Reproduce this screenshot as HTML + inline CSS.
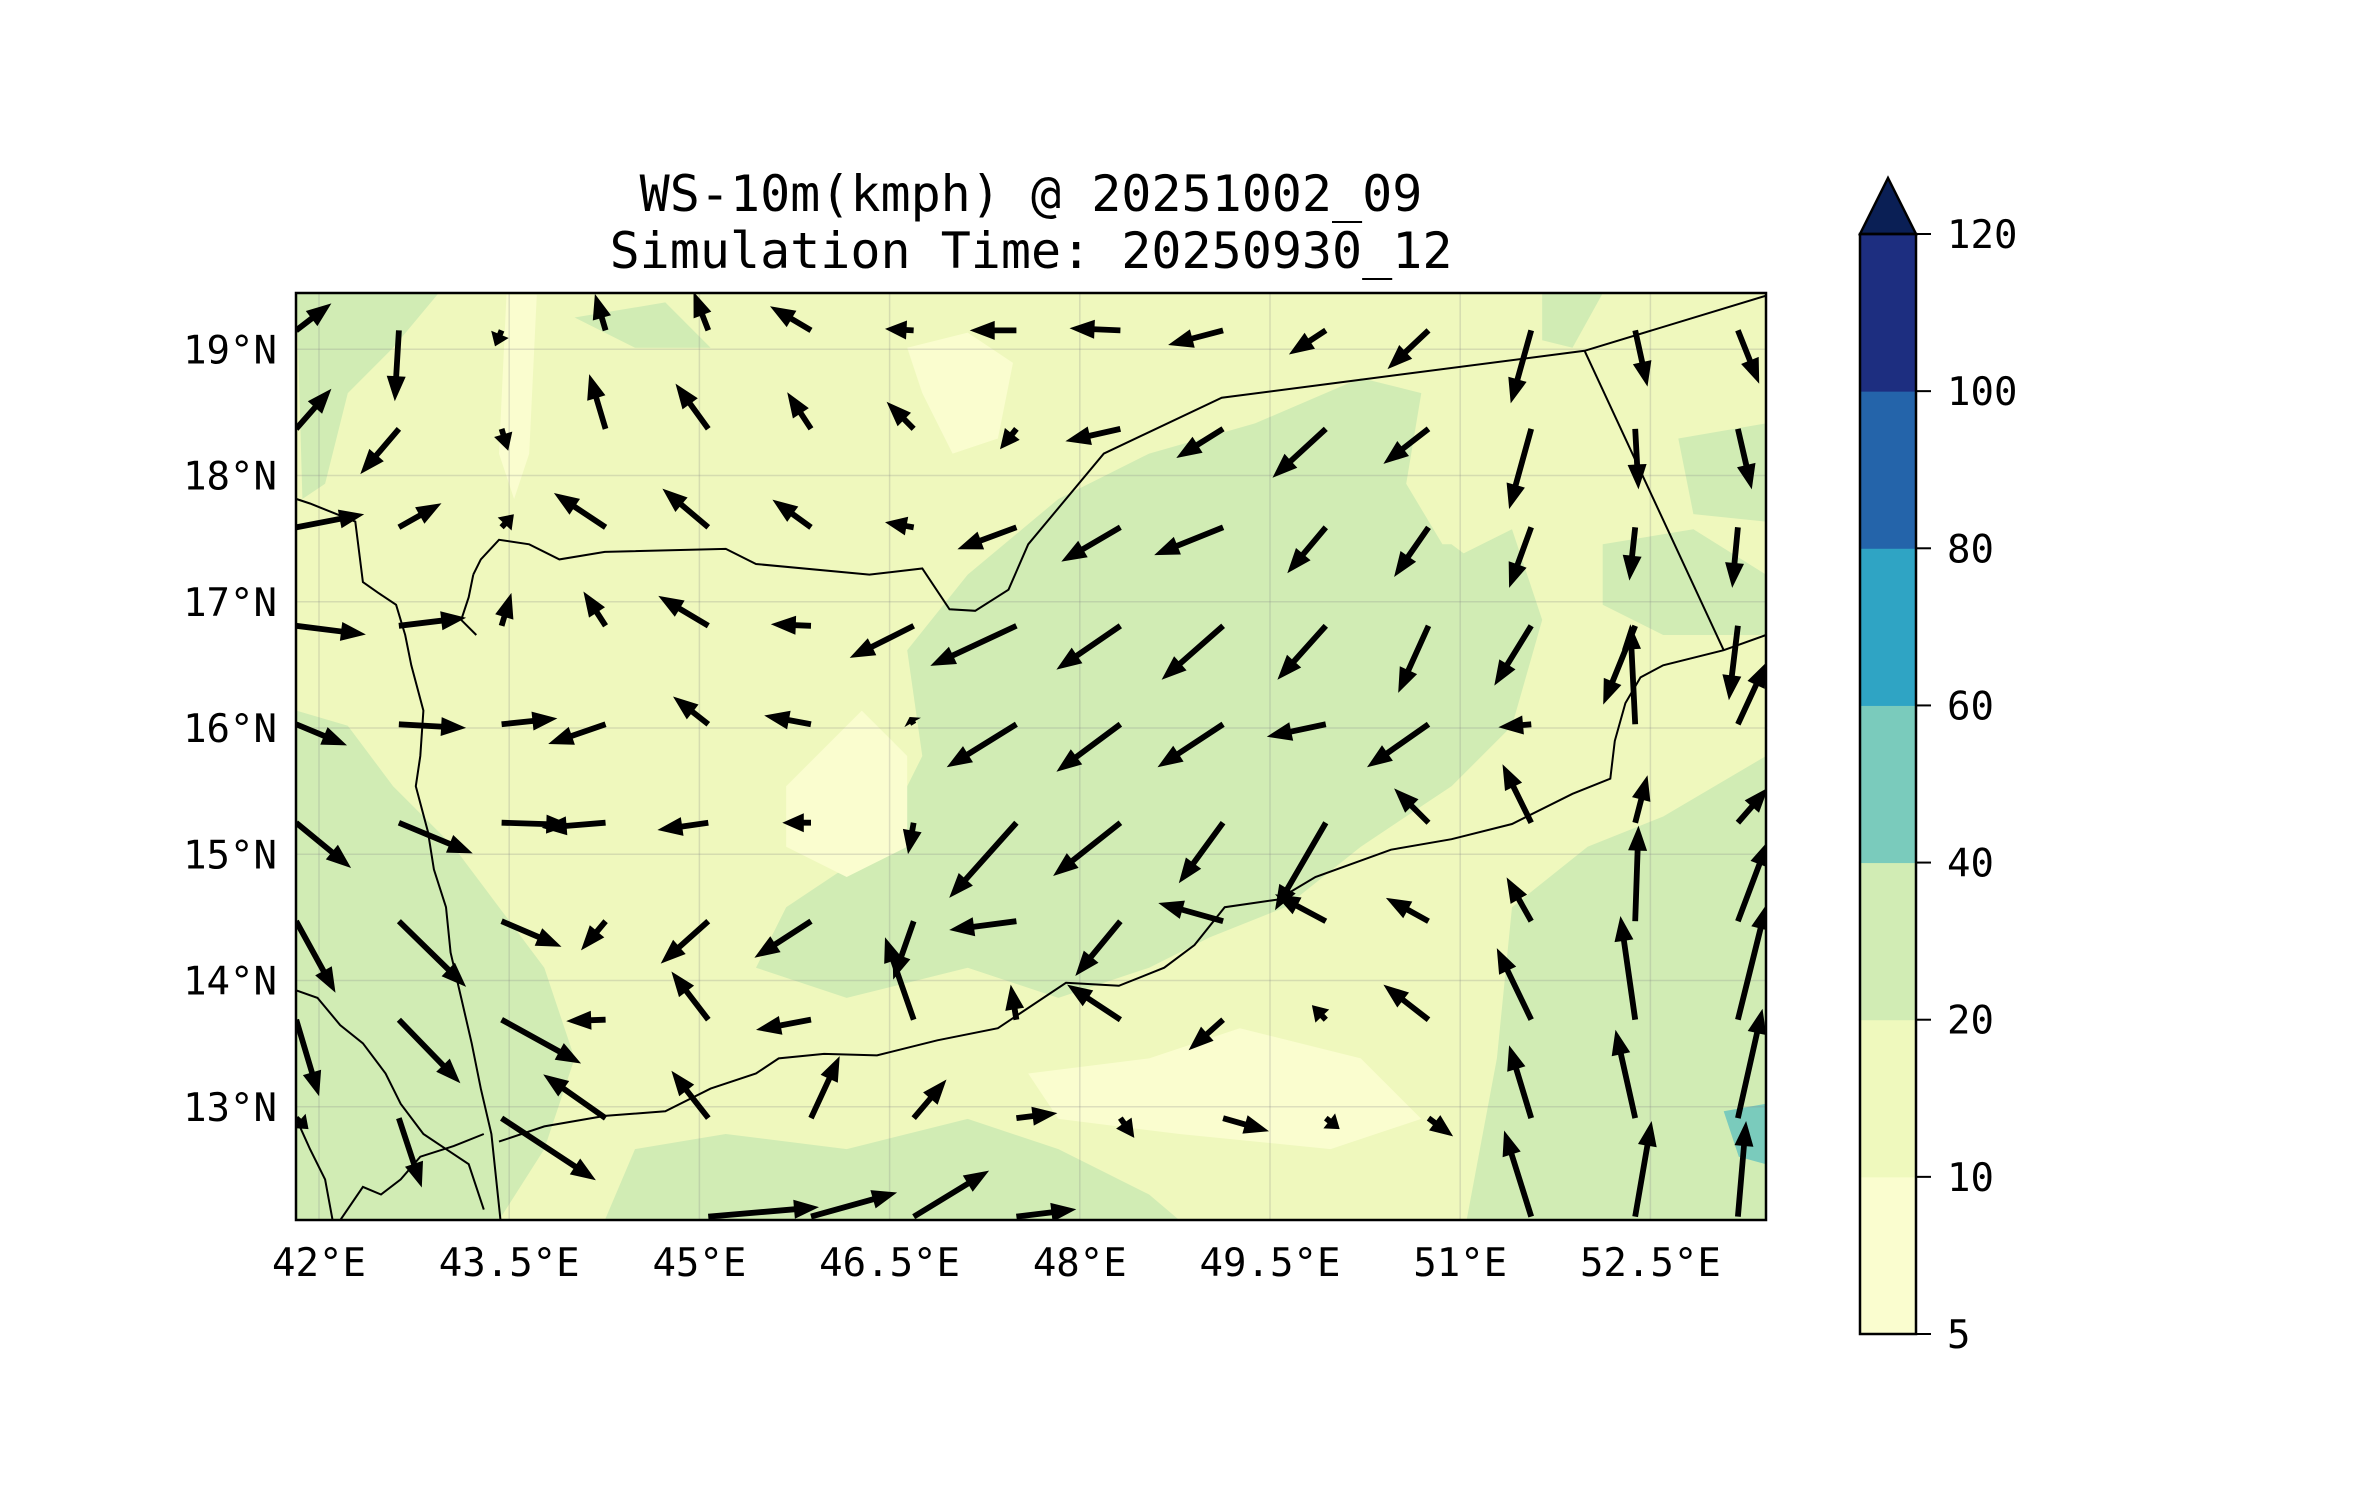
<!DOCTYPE html>
<html><head><meta charset="utf-8"><title>WS-10m</title>
<style>
html,body{margin:0;padding:0;background:#fff;}
svg{display:block;font-family:"DejaVu Sans Mono","Liberation Mono",monospace;}
</style></head>
<body>
<svg id="fig" width="2371" height="1500" viewBox="0 0 2371 1500" xmlns="http://www.w3.org/2000/svg">
<defs><clipPath id="mapclip"><rect x="296" y="293" width="1470" height="927"/></clipPath></defs>
<text x="1031" y="211" font-size="50" text-anchor="middle">WS-10m(kmph) @ 20251002_09</text>
<text x="1031" y="268" font-size="50" text-anchor="middle">Simulation Time: 20250930_12</text>
<g id="map" clip-path="url(#mapclip)">
<rect x="296" y="293" width="1470" height="927" fill="#eff8bd"/>
<g id="fills"></g><g id="grid"></g><g id="coast"></g><g id="arrows"></g>
</g>
<rect x="296" y="293" width="1470" height="927" fill="none" stroke="#000" stroke-width="2.5"/>
<g id="ticks"></g>
<g id="cbar"></g>
</svg>
<script>
// ---- data ----
const lonTicks=[42,43.5,45,46.5,48,49.5,51,52.5];
const latTicks=[13,14,15,16,17,18,19];
const cbLevels=[5,10,20,40,60,80,100,120];
const cbColors=["#fafdcf","#eff9bd","#d1ecb4","#7acbbc","#2fa4c4","#2464aa","#1d2e80"];
const gridLon=[41.82,42.63,43.44,44.26,45.07,45.88,46.69,47.5,48.32,49.13,49.94,50.75,51.56,52.38,53.19];
const gridLat=[19.15,18.37,17.59,16.81,16.03,15.25,14.47,13.69,12.91,12.13];
const U=[
[43,-5,-8,-13,-18,-50,-35,-57,-62,-67,-45,-50,-25,15,26],
[43,-47,8,-20,-40,-29,-33,-20,-67,-57,-65,-55,-27,4,17],
[83,52,15,-63,-56,-47,-35,-72,-72,-84,-47,-42,-27,-7,-7],
[85,82,12,-27,-61,-49,-78,-105,-78,-75,-59,-37,-45,-39,-11],
[62,82,68,-70,-43,-57,-5,-85,-78,-80,-72,-75,-40,-6,35],
[67,90,85,-78,-62,-35,-7,-82,-82,-54,-62,-42,-35,15,37],
[48,82,73,-30,-58,-69,-25,-82,-55,-79,-62,-52,-30,4,37],
[28,75,97,-48,-45,-67,-35,-7,-65,-42,-17,-55,-42,-18,35],
[15,28,115,-76,-45,35,40,50,17,56,17,30,-27,-24,30],
[0,0,0,0,135,105,92,73,0,0,0,0,-33,20,10]];
const V=[
[37,-97,-22,50,53,33,2,0,3,-20,-33,-53,-100,-77,-73],
[55,-62,-30,75,62,50,37,-28,-17,-40,-67,-48,-110,-83,-83],
[18,33,18,47,53,38,7,-30,-47,-38,-63,-68,-83,-73,-83],
[-12,11,45,47,41,2,-44,-55,-60,-74,-74,-92,-82,-108,-102],
[-29,-5,8,-27,38,12,10,-59,-65,-59,-17,-59,-4,137,85],
[-62,-42,-3,-7,-10,0,-43,-103,-73,-83,-120,47,80,65,48],
[-98,-90,-35,-40,-58,-50,-80,-12,-75,25,37,32,60,131,110],
[-105,-87,-60,-2,66,-14,113,48,48,-42,20,48,98,142,158],
[-15,-95,-85,60,65,85,53,7,-27,-18,-15,-25,100,121,150],
[0,0,0,0,13,33,63,10,0,0,0,0,118,131,131]];
// ---- axes ----
const X0=296,X1=1766,Y0=293,Y1=1220;
function xOf(lon){return 319+(lon-42)*126.8;}
function yOf(lat){return 349.3+(19-lat)*126.25;}
const SU=0.82, SV=0.73; // px per unit
const NS="http://www.w3.org/2000/svg";
function mk(tag,attrs,parent){const e=document.createElementNS(NS,tag);for(const k in attrs)e.setAttribute(k,attrs[k]);parent.appendChild(e);return e;}
// traced geographic outlines (reference-view coords scaled to page)
const K=1.512;
function P(pts){return pts.map((p,i)=>(i?'L':'M')+(p[0]*K).toFixed(1)+' '+(p[1]*K).toFixed(1)).join(' ');}
// ---- contour fills (approximate) ----
const fills=document.getElementById('fills');
const greens=[
[[196,470],[230,480],[260,520],[300,560],[330,600],[360,640],[380,700],[360,760],[330,807],[196,807]],
[[196,190],[200,330],[215,320],[230,260],[260,230],[290,194]],
[[600,430],[640,380],[700,330],[760,300],[830,280],[900,250],[940,260],[930,320],[960,370],[1000,350],[1020,410],[1000,480],[960,520],[900,560],[850,600],[800,620],[760,640],[700,660],[640,640],[560,660],[500,640],[520,600],[580,560],[610,500]],
[[970,807],[990,700],[1000,600],[1050,560],[1100,540],[1168,500],[1168,807]],
[[1110,290],[1168,280],[1168,345],[1120,340]],
[[1060,360],[1120,350],[1168,380],[1168,420],[1100,420],[1060,400]],
[[1020,194],[1060,194],[1040,230],[1020,225]],
[[400,807],[420,760],[480,750],[560,760],[640,740],[700,760],[760,790],[780,807]],
[[380,210],[440,200],[470,230],[420,230]],
[[880,360],[960,360],[1000,390],[940,400],[870,390]]];
greens.forEach(g=>{const e=mk('path',{d:P(g)+'Z',fill:'#d1ecb4'},fills);

});
const lights=[
[[600,230],[640,220],[670,240],[660,290],[630,300],[610,260]],
[[680,710],[760,700],[820,680],[900,700],[940,740],[880,760],[780,750],[700,740]],
[[520,520],[570,470],[600,500],[600,560],[560,580],[520,560]],
[[335,195],[355,195],[350,300],[340,330],[330,300]],
[[1140,735],[1168,730],[1168,770],[1150,765]]];
lights.forEach((g,i)=>{const e=mk('path',{d:P(g)+'Z',fill:i==4?'#7acbbc':'#fafdcf'},fills);

});
// ---- gridlines ----
const grid=document.getElementById('grid');
lonTicks.forEach(l=>{const e=mk('line',{x1:xOf(l),x2:xOf(l),y1:Y0,y2:Y1,stroke:'#888','stroke-opacity':0.25,'stroke-width':1.5},grid);

});
latTicks.forEach(l=>{const e=mk('line',{x1:X0,x2:X1,y1:yOf(l),y2:yOf(l),stroke:'#888','stroke-opacity':0.25,'stroke-width':1.5},grid);

});
// ---- coastlines & borders ----
const coast=document.getElementById('coast');
const lines=[
[[196,330],[205,333],[235,345],[240,385],[250,392],[262,400],[268,420],[272,440],[280,470],[278,500],[275,520],[283,550],[287,575],[295,600],[298,630],[305,660],[312,690],[318,720],[325,750],[331,807]],
[[313,380],[318,370],[330,357],[350,360],[370,370],[400,365],[480,363],[500,373],[575,380],[610,376],[628,403],[645,404],[667,390],[680,360],[730,300],[808,263],[1048,232],[1170,195]],
[[1048,232],[1140,430]],
[[313,380],[310,395],[305,410],[315,420]],
[[330,755],[360,745],[400,738],[440,735],[470,720],[500,710],[515,700],[545,697],[580,698],[620,688],[660,680],[705,650],[740,652],[770,640],[790,625],[810,600],[845,595],[870,580],[920,562],[960,555],[1000,545],[1040,525],[1065,515],[1068,490],[1075,465],[1085,448],[1100,440],[1140,430],[1168,420]],
[[196,655],[210,660],[225,678],[240,690],[255,710],[265,730],[280,750],[295,760],[310,770],[320,800]],
[[225,807],[240,785],[252,790],[265,780],[278,765],[300,758],[320,750]],
[[196,740],[205,760],[215,780],[220,807]]];
lines.forEach(l=>{const e=mk('path',{d:P(l),fill:'none',stroke:'#000','stroke-width':2},coast);

});
// ---- quiver ----
const arrows=document.getElementById('arrows');
for(let j=0;j<gridLat.length;j++){for(let i=0;i<gridLon.length;i++){
 const dx=U[j][i]*SU, dy=-V[j][i]*SV; const L=Math.hypot(dx,dy); if(L<3)continue;
 const x0=xOf(gridLon[i]), y0=yOf(gridLat[j]);
 const ux=dx/L, uy=dy/L, nx=-uy, ny=ux;
 const w=2.9, hw=9.5, hl=Math.min(25,L*0.75);
 const bx=x0+ux*(L-hl), by=y0+uy*(L-hl);
 const pts=[[x0+nx*w,y0+ny*w],[bx+nx*w,by+ny*w],[bx+nx*hw,by+ny*hw],[x0+dx,y0+dy],[bx-nx*hw,by-ny*hw],[bx-nx*w,by-ny*w],[x0-nx*w,y0-ny*w]];
 const e=mk('polygon',{points:pts.map(p=>p[0].toFixed(1)+','+p[1].toFixed(1)).join(' '),fill:'#000'},arrows);
 
 
}}
// ---- tick labels ----
const ticks=document.getElementById('ticks');
lonTicks.forEach(l=>{const e=mk('text',{x:xOf(l),y:1276,'font-size':39,'text-anchor':'middle'},ticks);e.textContent=(l%1?l.toFixed(1):l)+'°E';

});
latTicks.forEach(l=>{const e=mk('text',{x:277,y:yOf(l)+14,'font-size':39,'text-anchor':'end'},ticks);e.textContent=l+'°N';

});
// ---- colorbar ----
const cb=document.getElementById('cbar');
const CX=1860,CW=56,CT=234,CB=1334,step=(CB-CT)/(cbLevels.length-1);
function cy(k){return CB-k*step;}
cbColors.forEach((c,k)=>{const e=mk('rect',{x:CX,y:cy(k+1),width:CW,height:step+0.5,fill:c},cb);

});
const tri=mk('polygon',{points:`${CX},${CT} ${CX+CW/2},178 ${CX+CW},${CT}`,fill:'#0a1f55',stroke:'#000','stroke-width':2.5},cb);


const fr=mk('rect',{x:CX,y:CT,width:CW,height:CB-CT,fill:'none',stroke:'#000','stroke-width':2.5},cb);


cbLevels.forEach((v,k)=>{const y=cy(k);
 const t=mk('line',{x1:CX+CW,x2:CX+CW+15,y1:y,y2:y,stroke:'#000','stroke-width':2},cb);
 
 
 const e=mk('text',{x:1947,y:y+14,'font-size':39},cb);e.textContent=v;
 
 });
</script>
</body></html>
